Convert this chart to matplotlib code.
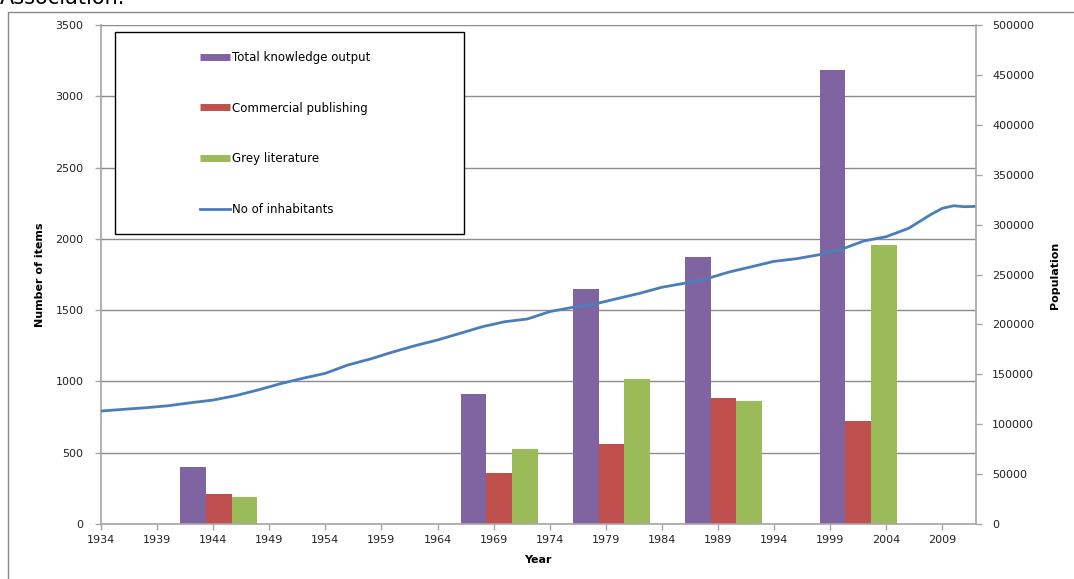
import matplotlib
matplotlib.use('Agg')
import matplotlib.pyplot as plt
from matplotlib.lines import Line2D
from matplotlib.patches import Rectangle

# knowledge output per period (items)
group_years = [1944, 1969, 1979, 1989, 2001]
total_output = [400, 912, 1648, 1875, 3182]
commercial = [210, 360, 561, 886, 722]
grey_lit = [190, 528, 1015, 860, 1960]

# population by year
pop_years = [1934, 1936, 1938, 1940, 1942, 1944, 1946, 1948, 1950, 1952, 1954,
             1956, 1958, 1960, 1962, 1964, 1966, 1968, 1970, 1972, 1974,
             1976, 1978, 1980, 1982, 1984, 1986, 1988, 1990, 1992, 1994,
             1996, 1998, 2000, 2002, 2004, 2006, 2008, 2009, 2010, 2011, 2012]
population = [113200, 114900, 116500, 118500, 121500, 124200, 128600, 134300, 140600, 146000, 151000,
              159300, 165300, 172300, 178700, 184400, 191000, 197700, 202700, 205400, 212800,
              217000, 220400, 225800, 231100, 237200, 241200, 245800, 252500, 257800, 263200,
              265800, 269800, 275200, 283600, 287900, 296300, 310300, 316300, 318900, 317900, 318300]

xticks = list(range(1934, 2010, 5))

purple = '#8064A2'
red = '#C0504D'
green = '#9BBB59'
blue = '#4A7EBB'
grid_c = '#8c8c8c'
axis_c = '#a6a6a6'

fig = plt.figure(figsize=(10.74, 5.79), dpi=100)
ax = fig.add_axes([101/1074, 1-524/579, (976-101)/1074, (524-25)/579])

w = 2.28
for i, g in enumerate(group_years):
    c = g + 0.5
    ax.bar(c - w, total_output[i], width=w, color=purple, linewidth=0)
    ax.bar(c, commercial[i], width=w, color=red, linewidth=0)
    ax.bar(c + w, grey_lit[i], width=w, color=green, linewidth=0)

ax.set_xlim(1934, 2012)
ax.set_ylim(0, 3500)
ax.set_yticks(range(0, 3501, 500))
ax.set_xticks(xticks)
ax.yaxis.grid(True, color=grid_c, linewidth=1)
ax.set_axisbelow(True)
ax.tick_params(axis='y', direction='out', length=4.5, width=1, color=axis_c, pad=8,
               labelsize=8, labelcolor='#222222')
ax.tick_params(axis='x', direction='out', length=4, width=1, color=axis_c, pad=4,
               labelsize=8, labelcolor='#222222')
for s in ['top', 'right']:
    ax.spines[s].set_visible(False)
for s in ['left', 'bottom']:
    ax.spines[s].set_color(axis_c)
    ax.spines[s].set_linewidth(1.2)

ax2 = ax.twinx()
ax2.plot(pop_years, population, color=blue, linewidth=2)
ax2.set_ylim(0, 500000)
ax2.set_yticks(range(0, 500001, 50000))
ax2.tick_params(axis='y', direction='out', length=4.5, width=1, color=axis_c, pad=7,
                labelsize=8, labelcolor='#222222')
for s in ['top', 'left', 'bottom']:
    ax2.spines[s].set_visible(False)
ax2.spines['right'].set_color(axis_c)
ax2.spines['right'].set_linewidth(1.2)

# axis titles
fig.text(40/1074, 1-275/579, 'Number of items', rotation=90, ha='center', va='center',
         fontsize=8, fontweight='bold')
fig.text(1055/1074, 1-275/579, 'Population', rotation=90, ha='center', va='center',
         fontsize=8, fontweight='bold')
fig.text(538/1074, 1-560/579, 'Year', ha='center', va='center', fontsize=8, fontweight='bold')

# legend box
fig.patches.append(Rectangle((115/1074, 1-234/579), (464-115)/1074, (234-32)/579,
                             transform=fig.transFigure, fill=True, facecolor='white',
                             edgecolor='black', linewidth=1, zorder=5))
handles = [Line2D([], [], color=purple, linewidth=5, solid_capstyle='butt'),
           Line2D([], [], color=red, linewidth=5, solid_capstyle='butt'),
           Line2D([], [], color=green, linewidth=5, solid_capstyle='butt'),
           Line2D([], [], color=blue, linewidth=2)]
labels = ['Total knowledge output', 'Commercial publishing', 'Grey literature', 'No of inhabitants']
leg = fig.legend(handles, labels, loc='upper left', bbox_to_anchor=(195/1074, 1-46/579),
                 frameon=False, fontsize=8.5, handlelength=2.55, handletextpad=0.2,
                 labelspacing=3.2, borderaxespad=0)
leg.set_zorder(6)

# outer chart border
fig.patches.append(Rectangle((8/1074, -0.1), 1.2, 1-12/579 + 0.1, transform=fig.transFigure,
                             fill=False, edgecolor='#8a8a8a', linewidth=1))

fig.text(0.0, 1-3.5/579, 'Association.', ha='left', va='baseline', fontsize=15)

fig.savefig('out.png', dpi=100)
